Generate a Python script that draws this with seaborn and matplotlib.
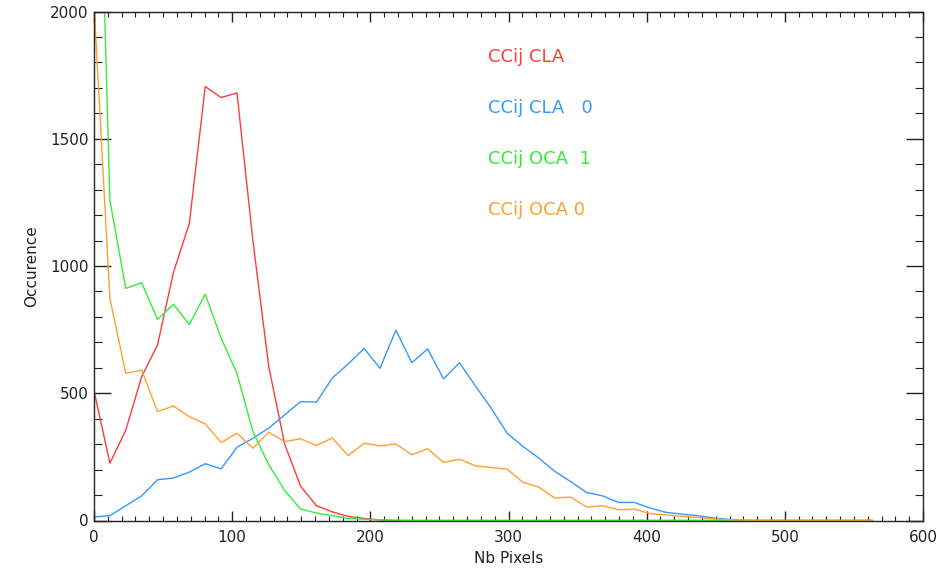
import numpy as np
import pandas as pd
import matplotlib
matplotlib.use("Agg")
import matplotlib.pyplot as plt
import seaborn as sns

# ---- data ----
nb_pixels = [0, 11.5, 23, 34.5, 46, 57.5, 69, 80.5, 92, 103.5,
             115, 126.5, 138, 149.5, 161, 172.5, 184, 195.5, 207, 218.5,
             230, 241.5, 253, 264.5, 276, 287.5, 299, 310.5, 322, 333.5,
             345, 356.5, 368, 379.5, 391, 402.5, 414, 425.5, 437, 448.5,
             460, 471.5, 483, 494.5, 506, 517.5, 529, 540.5, 552, 563.5]

cla = [510, 225, 355, 565, 690, 975, 1167, 1705, 1662, 1680,
       1100, 604, 300, 135, 58, 34, 16, 8, 2, 0,
       0, 0, 0, 0, 0, 0, 0, 0, 0, 0,
       0, 0, 0, 0, 0, 0, 0, 0, 0, 0,
       0, 0, 0, 0, 0, 0, 0, 0, 0, 0]

cla0 = [14, 19, 58, 97, 160, 167, 190, 223, 203, 288,
        323, 363, 415, 467, 465, 560, 615, 676, 598, 748,
        620, 674, 556, 620, 529, 441, 343, 291, 245, 193,
        153, 110, 97, 71, 71, 49, 32, 25, 19, 10,
        4, 0, 0, 0, 0, 0, 0, 0, 0, 0]

oca1 = [3500, 1258, 912, 934, 790, 850, 770, 889, 716, 578,
        349, 219, 118, 45, 29, 19, 8, 5, 2, 1,
        0, 0, 0, 0, 0, 0, 0, 0, 0, 0,
        0, 0, 0, 0, 0, 0, 0, 0, 0, 0,
        0, 0, 0, 0, 0, 0, 0, 0, 0, 0]

oca0 = [2030, 873, 578, 591, 428, 450, 408, 380, 306, 343,
        284, 347, 310, 321, 295, 324, 255, 304, 293, 301,
        258, 282, 228, 241, 215, 208, 202, 150, 131, 88,
        92, 53, 58, 42, 45, 27, 22, 16, 12, 6,
        3, 1, 0, 0, 0, 0, 0, 0, 0, 0]

series_names = ["CCij CLA", "CCij CLA   0", "CCij OCA  1", "CCij OCA 0"]
series_values = [cla, cla0, oca1, oca0]
colors = ["#ff3b3b", "#3399ff", "#33ee33", "#ffa030"]
label_y = [1800, 1600, 1400, 1200]

x_ticks = [0, 100, 200, 300, 400, 500, 600]
y_ticks = [0, 500, 1000, 1500, 2000]

df = pd.concat(
    [pd.DataFrame({"Nb Pixels": nb_pixels, "Occurence": v, "series": n})
     for n, v in zip(series_names, series_values)],
    ignore_index=True)

# ---- plot ----
sns.set_style("white")
plt.rcParams["font.family"] = ["DejaVu Sans"]

fig = plt.figure(figsize=(9.51, 5.69), dpi=100)
ax = fig.add_axes([94 / 951, 1 - 520.5 / 569, (923 - 94) / 951, (520.5 - 11.5) / 569])

sns.lineplot(data=df, x="Nb Pixels", y="Occurence", hue="series",
             palette=dict(zip(series_names, colors)), hue_order=series_names,
             sort=False, estimator=None, linewidth=1.0, legend=False, ax=ax)

ax.set_xlim(0, 600)
ax.set_ylim(0, 2000)
ax.set_xticks(x_ticks)
ax.set_yticks(y_ticks)
ax.set_xticks(np.arange(0, 601, 10), minor=True)
ax.set_yticks(np.arange(0, 2001, 100), minor=True)

for s in ax.spines.values():
    s.set_visible(True)
    s.set_color("#222222")
    s.set_linewidth(1.0)

ax.tick_params(axis="x", which="major", direction="in", length=7.2, width=1.0,
               top=True, bottom=True, labelsize=11, pad=7, colors="#222222")
ax.tick_params(axis="x", which="minor", direction="in", length=3.6, width=0.8,
               top=True, bottom=True, colors="#222222")
ax.tick_params(axis="y", which="major", direction="in", length=12, width=1.0,
               left=True, right=True, labelsize=11, pad=4, colors="#222222")
ax.tick_params(axis="y", which="minor", direction="in", length=6, width=0.8,
               left=True, right=True, colors="#222222")

ax.set_xlabel("Nb Pixels", fontsize=11, labelpad=4, color="#222222")
ax.set_ylabel("Occurence", fontsize=11, labelpad=8, color="#222222")

for name, c, yy in zip(series_names, colors, label_y):
    ax.text(285, yy, name, color=c, fontsize=13, va="baseline", ha="left")

fig.savefig("out.png", dpi=100)
